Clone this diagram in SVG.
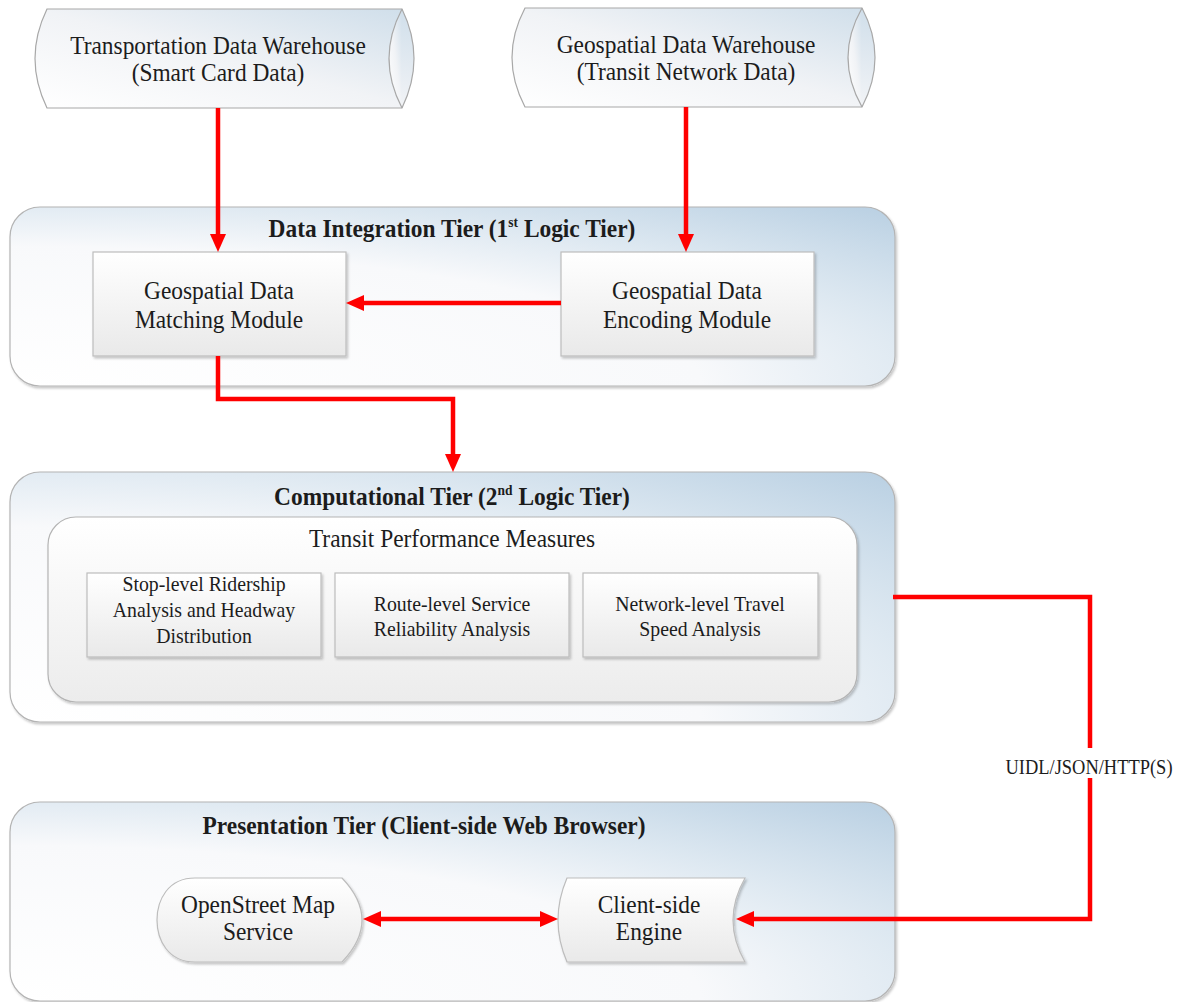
<svg xmlns="http://www.w3.org/2000/svg" width="1187" height="1002" viewBox="0 0 1187 1002">
<style>
.t{font-family:"Liberation Serif","Times New Roman",serif;font-size:26px;fill:#1c1c1c;text-anchor:middle}
.b{font-weight:bold}
.s{font-size:22px}
.u{font-size:20.5px}
.tier{fill:url(#tierG);stroke:#b4b4b4;stroke-width:1.2;filter:url(#sh)}
.box{fill:url(#boxG);stroke:#bdbdbd;stroke-width:1.2;filter:url(#sh)}
.cyl{fill:url(#cylG);stroke:#a8a8a8;stroke-width:1.2}
.conn{fill:none;stroke:#ff0000;stroke-width:4.5}
</style>
<defs>
<linearGradient id="cylG" x1="0" y1="1" x2="1" y2="0">
<stop offset="0" stop-color="#ffffff"/>
<stop offset="0.5" stop-color="#f1f3f6"/>
<stop offset="1" stop-color="#cfdeea"/>
</linearGradient>
<radialGradient id="tierG" cx="0" cy="1" r="1.42">
<stop offset="0" stop-color="#ffffff"/>
<stop offset="0.55" stop-color="#f8f9fb"/>
<stop offset="0.74" stop-color="#dde8f1"/>
<stop offset="1" stop-color="#b8cfe2"/>
</radialGradient>
<linearGradient id="boxG" x1="0" y1="0" x2="0" y2="1">
<stop offset="0" stop-color="#ffffff"/>
<stop offset="1" stop-color="#e9e9e9"/>
</linearGradient>
<linearGradient id="innerG" x1="0" y1="0" x2="0" y2="1">
<stop offset="0" stop-color="#ffffff"/>
<stop offset="1" stop-color="#ececec"/>
</linearGradient>
<filter id="sh" x="-5%" y="-5%" width="112%" height="115%">
<feDropShadow dx="1.5" dy="2" stdDeviation="1.2" flood-color="#000" flood-opacity="0.22"/>
</filter>
<marker id="ah" markerUnits="userSpaceOnUse" markerWidth="18" markerHeight="16" viewBox="0 0 18 16" refX="0" refY="8" orient="auto-start-reverse">
<path d="M0,0 L18,8 L0,16 Z" fill="#ff0000"/>
</marker>
</defs>
<rect width="1187" height="1002" fill="#ffffff"/>

<g id="tier1">
<rect class="tier" x="10" y="207" width="885" height="179" rx="30"/>
<text class="t b" transform="translate(452 0) scale(0.9 1)" y="237">Data Integration Tier (1<tspan font-size="15" dy="-10">st</tspan><tspan dy="10"> Logic Tier)</tspan></text>
</g>
<g id="tier2">
<rect class="tier" x="10" y="472" width="885" height="250" rx="30"/>
<text class="t b" transform="translate(452 0) scale(0.9 1)" y="505">Computational Tier (2<tspan font-size="15" dy="-10">nd</tspan><tspan dy="10"> Logic Tier)</tspan></text>
</g>
<g id="tier3">
<rect class="tier" x="10" y="802" width="885" height="199" rx="30"/>
<text class="t b" transform="translate(424 0) scale(0.9 1)" y="834">Presentation Tier (Client-side Web Browser)</text>
</g>

<g id="cyl-transport">
<path class="cyl" d="M47,9 H402 Q426,58.5 402,108 H47 Q23,58.5 47,9 Z"/>
<path class="cyl" fill="none" d="M402,9 Q376,58.5 402,108"/>
<text class="t" transform="translate(218 0) scale(0.9 1)" y="54">Transportation Data Warehouse</text>
<text class="t" transform="translate(218 0) scale(0.9 1)" y="81">(Smart Card Data)</text>
</g>
<g id="cyl-geo">
<path class="cyl" d="M525,8 H862 Q888,57.5 862,107 H525 Q499,57.5 525,8 Z"/>
<path class="cyl" fill="none" d="M862,8 Q834,57.5 862,107"/>
<text class="t" transform="translate(686 0) scale(0.9 1)" y="53">Geospatial Data Warehouse</text>
<text class="t" transform="translate(686 0) scale(0.9 1)" y="80">(Transit Network Data)</text>
</g>

<g id="matching">
<rect class="box" x="93" y="252" width="253" height="104"/>
<text class="t" transform="translate(219 0) scale(0.9 1)" y="299">Geospatial Data</text>
<text class="t" transform="translate(219 0) scale(0.9 1)" y="328">Matching Module</text>
</g>
<g id="encoding">
<rect class="box" x="561" y="252" width="253" height="104"/>
<text class="t" transform="translate(687 0) scale(0.9 1)" y="299">Geospatial Data</text>
<text class="t" transform="translate(687 0) scale(0.9 1)" y="328">Encoding Module</text>
</g>

<g id="measures">
<rect x="48" y="517" width="809" height="185" rx="28" fill="url(#innerG)" stroke="#b4b4b4" stroke-width="1.2" filter="url(#sh)"/>
<text class="t" transform="translate(452 0) scale(0.9 1)" y="547">Transit Performance Measures</text>
</g>
<g id="stop-level">
<rect class="box" x="87" y="573" width="234" height="84"/>
<text class="t s" transform="translate(204 0) scale(0.9 1)" y="591">Stop-level Ridership</text>
<text class="t s" transform="translate(204 0) scale(0.9 1)" y="617">Analysis and Headway</text>
<text class="t s" transform="translate(204 0) scale(0.9 1)" y="643">Distribution</text>
</g>
<g id="route-level">
<rect class="box" x="335" y="573" width="234" height="84"/>
<text class="t s" transform="translate(452 0) scale(0.9 1)" y="611">Route-level Service</text>
<text class="t s" transform="translate(452 0) scale(0.9 1)" y="636">Reliability Analysis</text>
</g>
<g id="network-level">
<rect class="box" x="583" y="573" width="235" height="84"/>
<text class="t s" transform="translate(700 0) scale(0.9 1)" y="611">Network-level Travel</text>
<text class="t s" transform="translate(700 0) scale(0.9 1)" y="636">Speed Analysis</text>
</g>

<g id="osm">
<path class="box" d="M195,878 H342 Q382,920 342,962 H195 C168,962 157,940 157,920 C157,900 168,878 195,878 Z"/>
<text class="t" transform="translate(258 0) scale(0.9 1)" y="913">OpenStreet Map</text>
<text class="t" transform="translate(258 0) scale(0.9 1)" y="940">Service</text>
</g>
<g id="client">
<path class="box" d="M567,878 H745 Q721,920 745,962 H567 Q549,920 567,878 Z"/>
<text class="t" transform="translate(649 0) scale(0.9 1)" y="913">Client-side</text>
<text class="t" transform="translate(649 0) scale(0.9 1)" y="940">Engine</text>
</g>

<g id="connectors">
<path class="conn" d="M218,108 V234" marker-end="url(#ah)"/>
<path class="conn" d="M686,107 V234" marker-end="url(#ah)"/>
<path class="conn" d="M561,303 H364" marker-end="url(#ah)"/>
<path class="conn" d="M218,356 V399 H453 V454" marker-end="url(#ah)"/>
<path class="conn" d="M893,597 H1090 V919 H754" marker-end="url(#ah)"/>
<path class="conn" d="M381,919 H540" marker-start="url(#ah)" marker-end="url(#ah)"/>
<rect x="1000" y="748" width="180" height="30" fill="#ffffff"/>
<text class="t u" transform="translate(1089 0) scale(0.9 1)" y="774">UIDL/JSON/HTTP(S)</text>
</g>
</svg>
